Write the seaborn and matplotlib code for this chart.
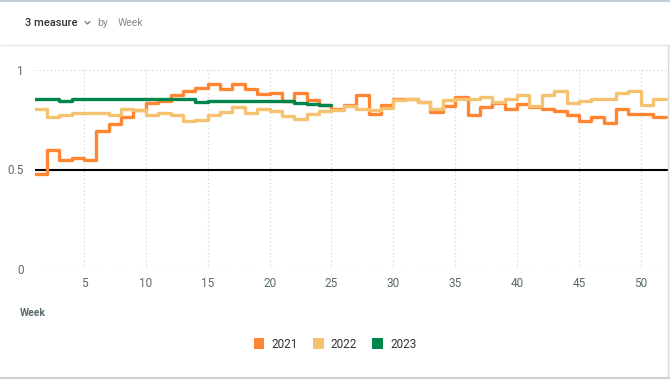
import numpy as np
import pandas as pd
import seaborn as sns
import matplotlib.pyplot as plt
from matplotlib.patches import Patch
from matplotlib.lines import Line2D

weeks = list(range(1, 53))
years = ["2021", "2022", "2023"]
colors = ["#ff8533", "#f5c270", "#00854a"]

val_2021 = [0.478, 0.598, 0.548, 0.558, 0.548, 0.695, 0.727, 0.762, 0.799, 0.836,
            0.843, 0.876, 0.893, 0.908, 0.928, 0.905, 0.928, 0.907, 0.879, 0.884,
            0.842, 0.886, 0.847, 0.822, 0.806, 0.824, 0.876, 0.777, 0.824, 0.854,
            0.855, 0.840, 0.790, 0.818, 0.865, 0.775, 0.816, 0.835, 0.803, 0.827,
            0.816, 0.804, 0.794, 0.776, 0.745, 0.765, 0.736, 0.803, 0.777, 0.777,
            0.765, 0.765]
val_2022 = [0.805, 0.765, 0.775, 0.786, 0.786, 0.786, 0.775, 0.803, 0.800, 0.775,
            0.786, 0.775, 0.745, 0.747, 0.772, 0.788, 0.814, 0.786, 0.804, 0.795,
            0.767, 0.756, 0.779, 0.794, 0.797, 0.818, 0.802, 0.800, 0.808, 0.851,
            0.854, 0.840, 0.805, 0.847, 0.855, 0.856, 0.863, 0.837, 0.855, 0.876,
            0.818, 0.876, 0.896, 0.836, 0.846, 0.853, 0.856, 0.885, 0.895, 0.826,
            0.853, 0.853]
val_2023 = [0.855, 0.855, 0.844, 0.855, 0.855, 0.855, 0.855, 0.855, 0.855, 0.855,
            0.855, 0.855, 0.855, 0.837, 0.846, 0.846, 0.846, 0.846, 0.846, 0.846,
            0.846, 0.836, 0.828, 0.825, 0.825]

x_ticks = [5, 10, 15, 20, 25, 30, 35, 40, 45, 50]
y_ticks = [0, 0.5, 1]
y_labels = ["0", "0.5", "1"]

if __name__ == "__main__":
    frames = []
    for yr, vals in zip(years, [val_2021, val_2022, val_2023]):
        frames.append(pd.DataFrame({"week": weeks[:len(vals)], "value": vals, "year": yr}))
    df = pd.concat(frames, ignore_index=True)

    sns.set_style("white")
    plt.rcParams["font.family"] = ["Roboto", "DejaVu Sans"]
    tick_col = "#5b6a6e"

    fig = plt.figure(figsize=(6.7, 3.8), dpi=100)
    ax = fig.add_axes([34.5 / 670, 111 / 380, 633.5 / 670, 199 / 380])

    ax.axhline(0.5, color="black", lw=1.5, zorder=2)
    sns.lineplot(data=df, x="week", y="value", hue="year", palette=colors,
                 drawstyle="steps-post", lw=2.4, legend=False, ax=ax, zorder=3)

    ax.set_xlim(1, 52.2)
    ax.set_ylim(0, 1)
    ax.set_xticks(x_ticks)
    ax.set_yticks(y_ticks)
    ax.set_yticklabels(y_labels)
    for sp in ax.spines.values():
        sp.set_visible(False)
    ax.grid(True, color="#cfcfcf", lw=0.8, linestyle=(0, (1, 2.5)))
    ax.set_axisbelow(True)
    ax.tick_params(axis="x", length=4, width=0.8, color="#9aa4a6", labelsize=8.5,
                   labelcolor=tick_col, pad=2)
    ax.tick_params(axis="y", length=0, labelsize=8.5, labelcolor=tick_col, pad=8)
    ax.set_xlabel("")
    ax.set_ylabel("")

    fig.text(20 / 670, 1 - 313 / 380, "Week", fontsize=7.5, color=tick_col,
             fontweight="bold", va="center", ha="left")

    # header
    fig.text(25 / 670, 1 - 23 / 380, "3 measure", fontsize=8, color="#333333",
             fontweight="medium", va="center")
    fig.add_artist(Line2D([85 / 670, 87.5 / 670, 90 / 670],
                          [1 - 21.5 / 380, 1 - 24 / 380, 1 - 21.5 / 380],
                          color="#777777", lw=0.9))
    fig.text(97 / 670, 1 - 23 / 380, "by", fontsize=7.5, color="#8a8a8a", va="center")
    fig.text(118 / 670, 1 - 23 / 380, "Week", fontsize=7.5, color="#8a8a8a", va="center")

    fig.add_artist(Line2D([0, 1], [1 - 1 / 380, 1 - 1 / 380], color="#c3ced8", lw=1.5))
    fig.add_artist(Line2D([0, 1], [1 - 45 / 380, 1 - 45 / 380], color="#e6e6e6", lw=1))
    fig.add_artist(Line2D([0, 1], [2 / 380, 2 / 380], color="#d0d0d0", lw=1.5))
    fig.add_artist(Line2D([668 / 670, 668 / 670], [2 / 380, 1 - 45 / 380], color="#d8d8d8", lw=1))

    handles = [Patch(facecolor=c, edgecolor="none", label=y) for y, c in zip(years, colors)]
    fig.legend(handles=handles, loc="center", bbox_to_anchor=(0.5, 1 - 344 / 380),
               ncol=3, frameon=False, fontsize=8.5, handlelength=0.9, handleheight=1.1,
               handletextpad=0.6, columnspacing=1.3, labelcolor="#333333")

    plt.savefig("out.png", dpi=100)
